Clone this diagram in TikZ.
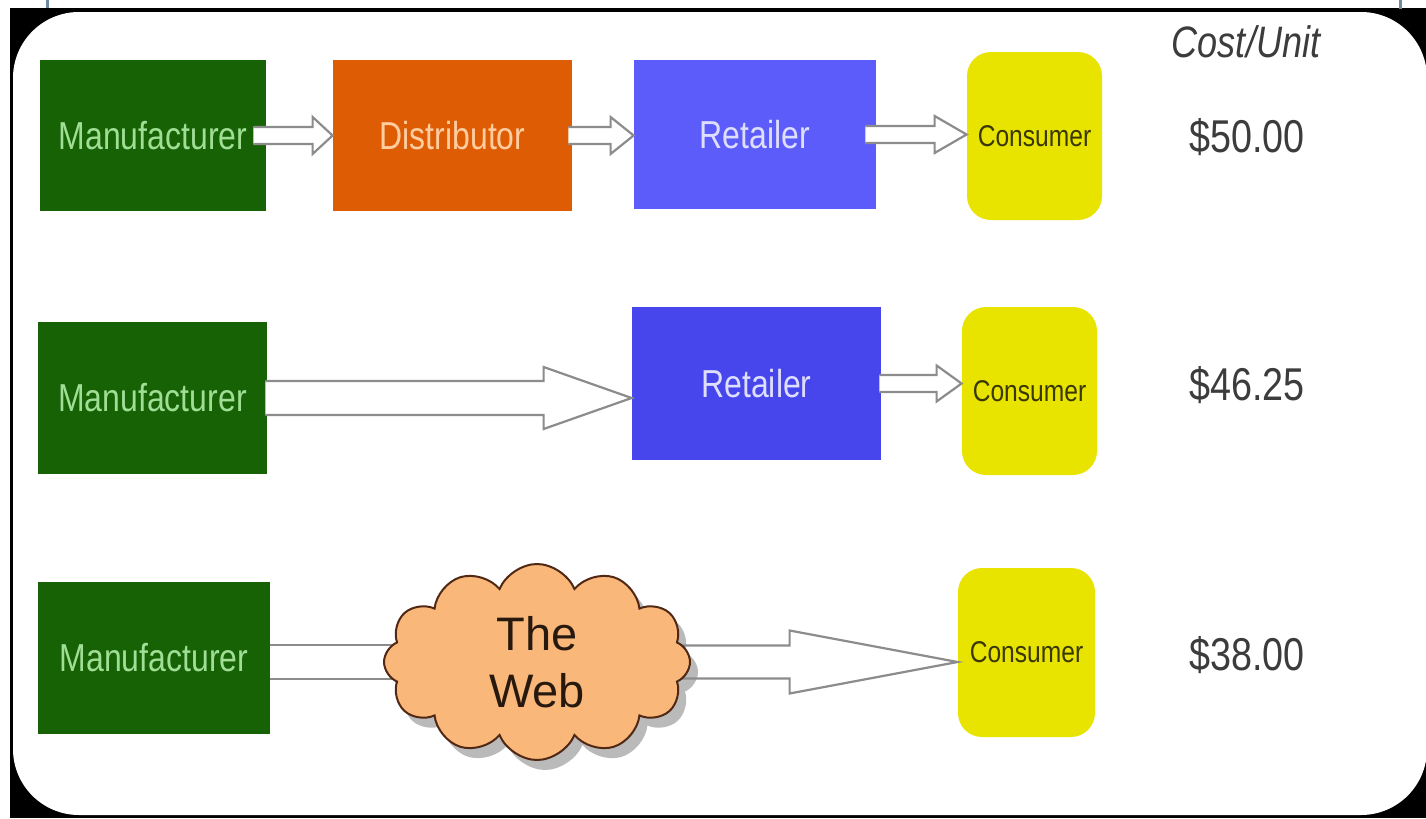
\documentclass[tikz,border=0pt]{standalone}
\usepackage{fontspec}
\setmainfont{Liberation Sans}
\newfontfamily\narrowfont[FakeStretch=0.82]{Liberation Sans}
\usetikzlibrary{calc,shapes.symbols,shadows}

\definecolor{mfggreen}{RGB}{22,98,4}
\definecolor{mfgtext}{RGB}{160,222,150}
\definecolor{distorange}{RGB}{222,92,4}
\definecolor{disttext}{RGB}{255,205,160}
\definecolor{retblue}{RGB}{92,92,250}
\definecolor{retbluedark}{RGB}{70,70,236}
\definecolor{rettext}{RGB}{222,222,255}
\definecolor{consyellow}{RGB}{232,228,0}
\definecolor{constext}{RGB}{58,56,0}
\definecolor{pricegray}{RGB}{60,60,60}
\definecolor{arrowgray}{RGB}{140,140,140}
\definecolor{cloudfill}{RGB}{250,183,122}
\definecolor{cloudline}{RGB}{80,40,20}
\definecolor{webtext}{RGB}{40,25,15}
\definecolor{tickblue}{RGB}{110,140,160}

\tikzset{
  box/.style={rectangle, inner sep=0pt, minimum width=114pt, minimum height=76pt,
    font=\narrowfont\fontsize{19.5}{22}\selectfont},
  consumer/.style={rectangle, rounded corners=12pt, fill=consyellow, text=constext,
    minimum width=67.5pt, minimum height=84pt, inner sep=0pt,
    font=\narrowfont\fontsize{15}{17}\selectfont},
  price/.style={text=pricegray, font=\narrowfont\fontsize{23}{26}\selectfont},
  arrowline/.style={draw=arrowgray, fill=white, line width=1.1pt, line join=miter},
}

% fat arrow: tail, tip, half shaft, half head, head length
\newcommand{\blockarrow}[5]{%
  \path (#1) coordinate (tail) (#2) coordinate (tip);
  \filldraw[arrowline] ($(tail)+(0,-#3)$) -- ($(tip)+(-#5,-#3)$) -- ($(tip)+(-#5,-#4)$)
    -- (tip) -- ($(tip)+(-#5,#4)$) -- ($(tip)+(-#5,#3)$) -- ($(tail)+(0,#3)$);
}

\begin{document}
\begin{tikzpicture}[x=0.5pt,y=-0.5pt]
\useasboundingbox (0,0) rectangle (1426,819);
\fill[white] (0,0) rectangle (1426,819);
\fill[black] (10,8) rectangle (1426,818);
\fill[white, rounded corners=33pt] (13,12) rectangle (1427,815);
\draw[tickblue, line width=1.5pt] (47,0) -- (47,8);
\draw[tickblue, line width=1.5pt] (1400,0) -- (1400,9);

\node[font=\narrowfont\itshape\fontsize{22}{24}\selectfont, text=pricegray] (cost) at (1246,42) {Cost/Unit};

% first row
\node[box, fill=mfggreen, text=mfgtext, minimum width=113pt, minimum height=75.5pt] (m1) at (153,135.5) {Manufacturer};
\node[box, fill=distorange, text=disttext, minimum width=119.5pt, minimum height=75.5pt] (d1) at (452.5,135.5) {Distributor};
\node[box, fill=retblue, text=rettext, minimum width=121pt, minimum height=74.5pt] (r1) at (755,134.5) {Retailer};
\node[consumer] (c1) at (1034.5,136) {Consumer};
\node[price] (p1) at (1247,137) {\$50.00};
\blockarrow{[xshift=-6.5pt]m1.east}{d1.west |- m1.east}{8.5}{18.5}{20}
\blockarrow{[xshift=-2pt]d1.east}{r1.west |- d1.east}{8.5}{18.5}{23}
\blockarrow{[xshift=-5.5pt]r1.east}{c1.west |- r1.east}{8.5}{18.5}{32}

% second row
\node[box, fill=mfggreen, text=mfgtext, minimum width=114.5pt] (m2) at (152.5,398) {Manufacturer};
\node[box, fill=retbluedark, text=rettext, minimum width=124.5pt, minimum height=76.5pt] (r2) at (756.5,383.5) {Retailer};
\node[consumer] (c2) at (1029.5,391) {Consumer};
\node[price] (p2) at (1247,385) {\$46.25};
\blockarrow{[xshift=-1pt]m2.east}{r2.west |- m2.east}{17}{31}{88}
\blockarrow{[xshift=-1pt]r2.east}{c2.west |- r2.east}{8.5}{18}{25}

% third row
\node[box, fill=mfggreen, text=mfgtext, minimum width=116pt] (m3) at (154,658) {Manufacturer};
\node[consumer, minimum width=68.5pt, minimum height=84.5pt] (c3) at (1026.5,652.5) {Consumer};
\node[price] (p3) at (1247,655) {\$38.00};
\coordinate (webc) at (537,662);
\fill[white] ($(m3.east |- webc)+(0,-17)$) rectangle ($(webc)+(0,17)$);
\draw[arrowline] ($(m3.east |- webc)+(0,-17)$) -- ($(webc)+(0,-17)$)
  ($(m3.east |- webc)+(0,17)$) -- ($(webc)+(0,17)$);
\blockarrow{webc}{c3.west |- webc}{16.5}{31.5}{168}
\node[cloud, cloud puffs=12, cloud puff arc=135, cloud ignores aspect,
  minimum width=153pt, minimum height=98pt, fill=cloudfill, draw=cloudline, line width=1pt,
  drop shadow={shadow xshift=4pt, shadow yshift=-5pt, fill=black!45, opacity=0.6},
  align=center, text=webtext, font=\fontsize{23.5}{28.5}\selectfont] (web) at (webc) {The\\Web};
\end{tikzpicture}
\end{document}
